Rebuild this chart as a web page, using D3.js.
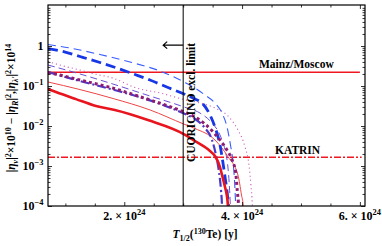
<!DOCTYPE html>
<html><head><meta charset="utf-8">
<script src="https://cdn.jsdelivr.net/npm/d3@7"></script>
<style>body{margin:0;background:#fff} svg{display:block}</style>
</head><body><svg id="c" width="382" height="246"></svg>
<script>
// ---- data (T in units of 10^24 y, value on log axis) ----
const xTickValues = [2, 4, 6];
const xTickMantissa = ["2.", "4.", "6."];
const xMinorTicks = [1, 1.5, 2.5, 3, 3.5, 4.5, 5, 5.5];
const yTickValues = [1e-4, 1e-3, 1e-2, 1e-1, 1];
const yTickExp = ["\u22124", "\u22123", "\u22122", "\u22121", null];
const mainzValue = 0.22;
const katrinValue = 0.00165;
const cuoricinoLimit = 3.0;

const thinBlueDashed = [[0.705,1.09],[1.078,0.891],[1.587,0.613],[2.097,0.398],[2.606,0.237],[3.014,0.126],[3.20,0.0891],[3.37,0.0596],[3.54,0.0376],[3.659,0.0211],[3.744,0.00944],[3.803,0.00335],[3.846,0.00126],[3.871,0.000447],[3.883,0.0002],[3.891,0.0001],[3.896,0.00003]];
const thickBlueDashed = [[0.705,0.866],[0.925,0.75],[1.248,0.546],[1.587,0.387],[1.859,0.287],[2.182,0.194],[2.436,0.141],[2.742,0.0917],[3.014,0.0631],[3.20,0.0473],[3.336,0.0355],[3.472,0.0168],[3.557,0.00794],[3.625,0.00335],[3.676,0.00119],[3.718,0.000447],[3.752,0.000188],[3.769,0.0001],[3.775,0.00003]];
const thinPinkDotted = [[0.705,0.41],[1.01,0.304],[1.248,0.251],[1.52,0.196],[1.808,0.158],[2.18,0.0917],[2.61,0.0668],[3.014,0.046],[3.285,0.0376],[3.54,0.0282],[3.76,0.0178],[3.93,0.00794],[4.05,0.00299],[4.117,0.00106],[4.15,0.000335],[4.174,0.0001],[4.18,0.00003]];
const thinVioletDashed = [[0.705,0.335],[1.248,0.2],[1.808,0.112],[2.436,0.0562],[3.014,0.0299],[3.285,0.0211],[3.489,0.0119],[3.625,0.00596],[3.71,0.00251],[3.761,0.000891],[3.786,0.000282],[3.80,0.0001],[3.805,0.00003]];
const thickPurpleDotted = [[0.705,0.2176],[0.908,0.188],[1.248,0.141],[1.757,0.0928],[2.267,0.054],[2.776,0.0304],[3.014,0.0224],[3.20,0.0168],[3.37,0.0112],[3.54,0.0063],[3.71,0.00299],[3.83,0.00141],[3.89,0.000708],[3.92,0.000224],[3.94,0.0001],[3.945,0.00003]];
const slateDashDot = [[0.705,0.224],[1.248,0.133],[1.927,0.0729],[2.52,0.0398],[3.014,0.0205],[3.20,0.015],[3.37,0.0089],[3.49,0.00447],[3.557,0.00188],[3.608,0.000708],[3.642,0.000251],[3.659,0.0001],[3.664,0.00003]];
const thinRedSolid = [[0.705,0.126],[1.23,0.0827],[1.81,0.0487],[2.44,0.0251],[3.01,0.0112],[3.20,0.00866],[3.54,0.00447],[3.76,0.00171],[3.93,0.000596],[3.99,0.000188],[4.02,0.0001],[4.026,0.00003]];
const thickRedSolid = [[0.705,0.0841],[0.84,0.0708],[1.18,0.047],[1.52,0.0316],[1.84,0.0251],[2.40,0.0141],[3.01,0.0063],[3.20,0.00422],[3.455,0.00237],[3.54,0.00178],[3.625,0.000944],[3.66,0.000596],[3.71,0.000299],[3.74,0.000188],[3.76,0.0001],[3.766,0.00003]];

const series = [
  {d: thinPinkDotted, color: "#c75bb4", w: 1.1, dash: "1.1,3", cap: "butt"},
  {d: thinVioletDashed, color: "#6a4fd6", w: 1.0, dash: "7,4", cap: "butt"},
  {d: thinBlueDashed, color: "#3a5cff", w: 1.1, dash: "8,5", cap: "butt"},
  {d: thinRedSolid, color: "#ef4545", w: 1.0, dash: null, cap: "butt"},
  {d: thickBlueDashed, color: "#1736e6", w: 2.8, dash: "10,5", cap: "butt"},
  {d: slateDashDot, color: "#4a38c8", w: 2.2, dash: "9,3,2,3", cap: "butt"},
  {d: thickPurpleDotted, color: "#8e1c70", w: 3.0, dash: "3,3", cap: "butt"},
  {d: thickRedSolid, color: "#e8141e", w: 2.6, dash: null, cap: "butt"}
];

const svg = d3.select("#c");
const L = 48, R = 365, T = 5, B = 206;
const x = d3.scaleLinear().domain([0.705, 6.087]).range([L, R]);
const y = d3.scaleLog().domain([1e-4, 10.6]).range([B, T]);
const FONT = "'Liberation Serif','Times New Roman',serif";

svg.append("defs").append("clipPath").attr("id","clip")
  .append("rect").attr("x",L).attr("y",T).attr("width",R-L).attr("height",B-T);

const plot = svg.append("g").attr("clip-path","url(#clip)");

// reference lines
plot.append("line").attr("x1",x(0.705)).attr("x2",x(6.0)).attr("y1",y(mainzValue)).attr("y2",y(mainzValue))
  .attr("stroke","#f01820").attr("stroke-width",1.6);
plot.append("line").attr("x1",x(0.705)).attr("x2",x(6.03)).attr("y1",y(katrinValue)).attr("y2",y(katrinValue))
  .attr("stroke","#f01820").attr("stroke-width",1.6).attr("stroke-dasharray","7,2,2,2");

const line = d3.line().x(d=>x(d[0])).y(d=>y(d[1])).curve(d3.curveMonotoneX);
series.forEach(s=>{
  plot.append("path").attr("d",line(s.d)).attr("fill","none").attr("stroke",s.color)
    .attr("stroke-width",s.w).attr("stroke-dasharray",s.dash).attr("stroke-linecap",s.cap);
});

// CUORICINO vertical line
svg.append("line").attr("x1",x(cuoricinoLimit)).attr("x2",x(cuoricinoLimit)).attr("y1",T).attr("y2",B)
  .attr("stroke","#000").attr("stroke-width",1);
// arrow
const ay = y(1.05);
svg.append("path").attr("d",`M${x(cuoricinoLimit)},${ay}H${x(cuoricinoLimit)-20}M${x(cuoricinoLimit)-16},${ay-3.5}L${x(cuoricinoLimit)-20},${ay}L${x(cuoricinoLimit)-16},${ay+3.5}`)
  .attr("fill","none").attr("stroke","#000").attr("stroke-width",1.2);

// axes (ticks inward)
const gx = svg.append("g").attr("transform",`translate(0,${B})`)
  .call(d3.axisBottom(x).tickValues(xTickValues).tickSize(-4).tickFormat(""));
const gx2 = svg.append("g").attr("transform",`translate(0,${B})`)
  .call(d3.axisBottom(x).tickValues(xMinorTicks).tickSize(-2.5).tickFormat(""));
const gxt = svg.append("g").attr("transform",`translate(0,${T})`)
  .call(d3.axisTop(x).tickValues(xTickValues).tickSize(-4).tickFormat(""));
const gxt2 = svg.append("g").attr("transform",`translate(0,${T})`)
  .call(d3.axisTop(x).tickValues(xMinorTicks).tickSize(-2.5).tickFormat(""));
const yMinor = [];
[1e-4,1e-3,1e-2,1e-1,1].forEach(dec=>{for(let k=2;k<=9;k++){const v=dec*k; if(v<=10.6) yMinor.push(v);}});
const gy = svg.append("g").attr("transform",`translate(${L},0)`)
  .call(d3.axisLeft(y).tickValues(yTickValues).tickSize(-4).tickFormat(""));
const gy2 = svg.append("g").attr("transform",`translate(${L},0)`)
  .call(d3.axisLeft(y).tickValues(yMinor).tickSize(-2.5).tickFormat(""));
const gyr = svg.append("g").attr("transform",`translate(${R},0)`)
  .call(d3.axisRight(y).tickValues(yTickValues).tickSize(-4).tickFormat(""));
const gyr2 = svg.append("g").attr("transform",`translate(${R},0)`)
  .call(d3.axisRight(y).tickValues(yMinor).tickSize(-2.5).tickFormat(""));
[gx,gx2,gxt,gxt2,gy,gy2,gyr,gyr2].forEach(g=>{g.select(".domain").remove(); g.selectAll("line").attr("stroke","#000").attr("stroke-width",0.8);});

// frame
svg.append("rect").attr("x",L).attr("y",T).attr("width",R-L).attr("height",B-T)
  .attr("fill","none").attr("stroke","#000").attr("stroke-width",1.2);

// rich text helper
function rich(sel, parts, size){
  let cur = 0;
  parts.forEach(p=>{
    let target = 0, fs = size;
    if(p.s==="sup"){target=-size*0.38; fs=size*0.7;}
    if(p.s==="sub"){target=size*0.25; fs=size*0.7;}
    sel.append("tspan").attr("dy",target-cur).attr("font-size",fs)
      .attr("font-style",p.i?"italic":null).text(p.t);
    cur = target;
  });
}

// y tick labels
yTickValues.forEach((v,i)=>{
  const t = svg.append("text").attr("x",43.5).attr("y",y(v)+4).attr("text-anchor","end")
    .attr("font-family",FONT).attr("font-weight","bold").attr("font-size",12);
  if(yTickExp[i]===null) t.text("1");
  else rich(t,[{t:"10"},{t:yTickExp[i],s:"sup"}],12);
});
// x tick labels
xTickValues.forEach((v,i)=>{
  const t = svg.append("text").attr("x",x(v)).attr("y",220).attr("text-anchor","middle")
    .attr("font-family",FONT).attr("font-weight","bold").attr("font-size",12);
  rich(t,[{t:xTickMantissa[i]+" \u00d7 10"},{t:"24",s:"sup"}],12);
});

// x axis title
const xt = svg.append("text").attr("x",205).attr("y",238).attr("text-anchor","middle")
  .attr("font-family",FONT).attr("font-weight","bold").attr("font-size",11.5);
rich(xt,[{t:"T",i:true},{t:"1/2",s:"sub"},{t:"("},{t:"130",s:"sup"},{t:"Te) [y]"}],11.5);

// y axis title
const yt = svg.append("text").attr("transform","translate(15,108) rotate(-90)").attr("text-anchor","middle")
  .attr("font-family",FONT).attr("font-weight","bold").attr("font-size",11.5);
rich(yt,[{t:"|"},{t:"\u03b7",i:true},{t:"\u03bd",s:"sub",i:true},{t:"|"},{t:"2",s:"sup"},{t:"\u00d710"},{t:"10",s:"sup"},
  {t:" \u2212 |"},{t:"\u03b7",i:true},{t:"R",s:"sub",i:true},{t:"|"},{t:"2",s:"sup"},{t:",|"},{t:"\u03b7",i:true},{t:"\u03bb'",s:"sub",i:true},{t:"|"},{t:"2",s:"sup"},{t:"\u00d710"},{t:"14",s:"sup"}],11.5);

// annotations
svg.append("text").attr("x",259).attr("y",68).attr("font-family",FONT).attr("font-weight","bold")
  .attr("font-size",11.5).text("Mainz/Moscow");
svg.append("text").attr("x",275).attr("y",153.5).attr("font-family",FONT).attr("font-weight","bold")
  .attr("font-size",11.5).text("KATRIN");
svg.append("text").attr("transform",`translate(${x(cuoricinoLimit)+12},162) rotate(-90)`)
  .attr("font-family",FONT).attr("font-weight","bold").attr("font-size",11.5).text("CUORICINO excl. limit");
</script></body></html>
